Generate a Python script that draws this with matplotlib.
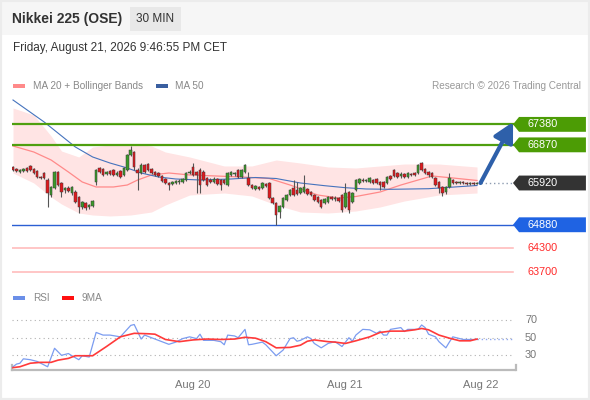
import matplotlib
matplotlib.use("Agg")
import matplotlib.pyplot as plt
from matplotlib.patches import Rectangle, Polygon
import numpy as np

plt.rcParams['font.family'] = ['Liberation Sans', 'DejaVu Sans']

# 30 min candles, oldest first
opens = [66319, 66269, 66194, 66219, 66294, 66344, 66269, 66219, 66070, 66169,
         65995, 65621, 65796, 66194, 65920, 65746, 65796, 65671, 65696, 65572,
         65323, 65422, 65323, 65347, 65945, 66294, 66269, 66144, 66219, 66244,
         66120, 66219, 66120, 66244, 66617, 66692, 66244, 66169, 66369, 66393,
         66269, 66194, 66169, 66095, 66020, 65920, 65895, 65920, 65945, 65945,
         65995, 66169, 66319, 66194, 66244, 66194, 66045, 65995, 65945, 66020,
         65995, 65995, 65870, 66120, 66144, 66244, 66070, 66194, 66045, 65870,
         65771, 65821, 65796, 65895, 65920, 65547, 65422, 65198, 65323, 65497,
         65621, 65796, 65746, 65671, 65696, 65771, 65696, 65621, 65572, 65497,
         65422, 65447, 65572, 65522, 65547, 65621, 65323, 65696, 65447, 65746,
         65920, 65995, 65970, 65945, 65995, 66020, 65945, 65945, 65920, 66095,
         66244, 66169, 66095, 66144, 66070, 66144, 66169, 66169, 66418, 66269,
         66194, 66169, 66045, 65945, 65821, 65696, 65821, 65995, 65945, 65920,
         65945, 65920, 65895, 65920, 65895]
highs = [66344, 66294, 66269, 66294, 66319, 66369, 66294, 66244, 66095, 66194,
         66045, 65846, 66219, 66219, 65945, 65821, 65846, 65846, 65746, 65597,
         65472, 65447, 65397, 65497, 66269, 66319, 66294, 66219, 66244, 66269,
         66219, 66244, 66319, 66642, 66842, 66717, 66294, 66418, 66393, 66418,
         66294, 66219, 66194, 66120, 66045, 65945, 65970, 65995, 66020, 66045,
         66194, 66244, 66418, 66219, 66294, 66244, 66070, 66045, 66070, 66045,
         66020, 66020, 66194, 66219, 66194, 66269, 66269, 66393, 66194, 65895,
         65870, 65846, 65945, 65920, 65945, 65572, 65447, 65372, 65572, 65646,
         65771, 65995, 65945, 65821, 66120, 65796, 65721, 65646, 65597, 65522,
         65547, 65597, 65597, 65597, 65572, 65646, 65920, 65721, 65696, 66020,
         66045, 66045, 66020, 66070, 66020, 66045, 65970, 65970, 66095, 66120,
         66269, 66194, 66194, 66169, 66194, 66169, 66194, 66393, 66443, 66294,
         66219, 66194, 66070, 65970, 65846, 65846, 66169, 66020, 65970, 65970,
         65970, 65945, 65945, 65945, 65945]
lows = [66219, 66194, 66169, 66194, 66194, 66219, 66144, 66045, 66020, 66020,
        65323, 65572, 65771, 65846, 65572, 65671, 65696, 65621, 65422, 65173,
        65273, 65248, 65273, 65323, 65870, 66169, 66095, 66120, 66120, 66095,
        66095, 66045, 66095, 66219, 66593, 66244, 65746, 66144, 66169, 66219,
        66144, 66095, 66070, 65945, 65895, 65746, 65870, 65895, 65895, 65920,
        65970, 66144, 66095, 65671, 65671, 65970, 65846, 65920, 65920, 65870,
        65746, 65895, 65846, 66095, 66095, 66045, 66045, 66169, 65846, 65771,
        65746, 65746, 65771, 65821, 65522, 65397, 64874, 65049, 65298, 65472,
        65597, 65597, 65621, 65646, 65671, 65621, 65597, 65472, 65422, 65298,
        65397, 65422, 65497, 65472, 65447, 65198, 65298, 65173, 65422, 65721,
        65895, 65945, 65945, 65920, 65895, 65895, 65746, 65796, 65895, 65995,
        66070, 66045, 66045, 66045, 66045, 66095, 66095, 66144, 66219, 66144,
        66070, 66045, 65846, 65671, 65597, 65646, 65796, 65895, 65895, 65895,
        65895, 65870, 65870, 65870, 65895]
closes = [66244, 66219, 66244, 66269, 66219, 66244, 66169, 66070, 66045, 66045,
          65671, 65821, 66194, 65870, 65696, 65796, 65721, 65821, 65447, 65323,
          65447, 65298, 65372, 65472, 66244, 66194, 66120, 66194, 66144, 66120,
          66169, 66070, 66294, 66617, 66742, 66319, 66169, 66369, 66194, 66244,
          66169, 66120, 66095, 65970, 65920, 65870, 65945, 65970, 65970, 66020,
          66169, 66194, 66120, 66120, 65870, 65995, 65870, 65945, 66020, 65895,
          65870, 65920, 66169, 66194, 66169, 66070, 66244, 66369, 65870, 65796,
          65846, 65771, 65920, 65846, 65547, 65422, 65123, 65347, 65547, 65621,
          65746, 65621, 65646, 65796, 65821, 65646, 65621, 65497, 65447, 65323,
          65522, 65572, 65522, 65547, 65472, 65248, 65671, 65248, 65671, 65995,
          66020, 65970, 65995, 66045, 65920, 65920, 65870, 65821, 66070, 66020,
          66095, 66070, 66144, 66070, 66169, 66120, 66120, 66369, 66244, 66169,
          66120, 66070, 65870, 65796, 65671, 65821, 66045, 65920, 65920, 65945,
          65920, 65895, 65920, 65895, 65920]

# indicators read at sample candles
ma50_idx = [0, 9, 18, 23, 28, 33, 37, 42, 47, 54, 63, 70, 76, 83, 90, 96, 102, 109, 120, 134]
ma50_val = [67987, 67439, 66817, 66568, 66418, 66294, 66169, 66070, 66020, 65995,
            66020, 66057, 66032, 65920, 65853, 65803, 65771, 65763, 65778, 65858]
ma20_idx = [0, 6, 11, 16, 20, 24, 29, 33, 36, 40, 45, 51, 66, 74, 80, 88, 94, 99, 106, 112, 121, 127, 134]
ma20_val = [66842, 66692, 66493, 66194, 65945, 65821, 65821, 65870, 65995, 66120, 66169, 66120,
            66070, 66032, 65870, 65621, 65547, 65584, 65696, 65870, 66095, 66045, 65983]
bb_idx = [0, 6, 11, 14, 19, 23, 28, 34, 40, 44, 51, 61, 69, 76, 83, 91, 99, 106, 113, 123, 134]
bb_upper = [67788, 67614, 67091, 66717, 66568, 66817, 66867, 66891, 66842, 66692, 66568,
            66344, 66344, 66493, 66418, 66319, 66294, 66344, 66393, 66393, 66319]
bb_lower = [66169, 65920, 65572, 65397, 65173, 65123, 65099, 65123, 65198, 65372, 65621,
            65671, 65597, 65372, 65198, 65173, 65223, 65323, 65472, 65621, 65671]

rsi_idx = [0, 1, 2, 3, 5, 7, 10, 12, 14, 16, 17, 19, 20, 22, 24, 26, 28, 31, 34, 35,
           37, 38, 40, 41, 45, 47, 49, 51, 53, 54, 55, 58, 60, 61, 62, 64, 65, 67, 68, 69,
           72, 73, 76, 78, 80, 81, 82, 83, 85, 86, 87, 89, 91, 93, 95, 97, 98, 99, 101, 103,
           104, 105, 106, 107, 108, 109, 112, 113, 114, 117, 118, 119, 120, 122, 123, 125,
           126, 127, 128, 130, 134]
rsi_val = [17, 20, 21, 26, 25, 23, 17, 38, 30, 32, 29.5, 25, 29.5, 28, 56, 53, 53, 51, 64, 65,
           48.5, 53, 50, 48.5, 42.5, 45, 49, 51, 49, 54, 47, 47, 45.5, 42, 53, 52, 50, 59.5, 42, 42.5,
           45, 42, 29.5, 36, 49, 50, 46, 47, 51, 49, 43.5, 38.5, 43.5, 45.5, 40, 50, 46, 53, 59.5, 59,
           57, 55, 57.5, 53, 53, 59.5, 61.5, 57, 59.5, 59.5, 64.5, 61.5, 54, 51, 45.5, 38.5,
           45, 51, 50, 48, 48]
ma9_idx = [0, 2, 5, 8, 11, 13, 16, 18, 21, 23, 27, 31, 35, 39, 41, 44, 48, 52, 56, 60,
           64, 67, 70, 73, 76, 80, 83, 85, 87, 91, 93, 96, 99, 103, 106, 109, 113, 116, 118, 120,
           123, 126, 129, 132, 134]
ma9_val = [16, 17, 21, 22, 22, 24.5, 26.5, 29.5, 29.5, 29.5, 40, 51, 55, 54.5, 54, 48, 45.5, 47.5, 48.5, 48,
           48.5, 50.5, 49.5, 45.5, 38.5, 39, 41.5, 46, 47.5, 45.5, 45, 43.5, 46.5, 51, 56, 57.5, 57.5, 59, 60.5, 59,
           53, 49.5, 46.5, 46.5, 48.5]

resistances = [67380, 66870]
pivot = 65920
support = 64880
lower_supports = [64300, 63700]
target = 67440

date_pos = [52, 95.7, 135]
date_labels = ['Aug 20', 'Aug 21', 'Aug 22']
rsi_levels = [70, 50, 30]

W, H = 590, 400
fig = plt.figure(figsize=(W / 100, H / 100), dpi=100)


def fx(px):
    return px / W


def fy(py):
    return 1 - py / H


def box(x0, y0, x1, y1, color):
    fig.patches.append(Rectangle((fx(x0), fy(y1)), fx(x1) - fx(x0), fy(y0) - fy(y1),
                                 transform=fig.transFigure, color=color, lw=0, zorder=0))


# header and frame
box(0, 0, 590, 35, '#f6f6f6')
box(130, 7, 181, 31, '#e8e8e8')
fig.patches.append(Rectangle((0, 0), 1, 1, transform=fig.transFigure, fill=False,
                             ec='#ececec', lw=3))
fig.text(fx(12), fy(19), 'Nikkei 225 (OSE)', fontsize=10, fontweight='bold', color='#333333', va='center')
fig.text(fx(155.5), fy(19), '30 MIN', fontsize=8.5, color='#333333', va='center', ha='center')
fig.text(fx(13), fy(48), 'Friday, August 21, 2026 9:46:55 PM CET', fontsize=8.5, color='#333333', va='center')

# legends
box(13, 84, 25, 88, '#ff8a8a')
fig.text(fx(33), fy(86), 'MA 20 + Bollinger Bands', fontsize=7.2, color='#888888', va='center')
box(156, 84, 168, 88, '#3a5fa0')
fig.text(fx(175), fy(86), 'MA 50', fontsize=7.2, color='#888888', va='center')
fig.text(fx(581), fy(86), 'Research \u00a9 2026 Trading Central', fontsize=7.2, color='#999999',
         va='center', ha='right')
box(13, 296, 25, 300, '#6b8fe8')
fig.text(fx(33), fy(298), 'RSI', fontsize=7.2, color='#888888', va='center')
box(62, 296, 74, 300, '#ff1010')
fig.text(fx(82), fy(298), '9MA', fontsize=7.2, color='#888888', va='center')

xlim = (-0.29, 144.96)

# price panel
ax = fig.add_axes([fx(12), fy(282), fx(515) - fx(12), fy(92) - fy(282)])
ax.set_xlim(*xlim)
ax.set_ylim(63455, 68186)
ax.axis('off')

ax.fill_between(bb_idx, bb_lower, bb_upper, color='#ffe4e4', lw=0, zorder=1)
ax.plot(ma20_idx, ma20_val, color='#ff8a8a', lw=0.9, zorder=2)
ax.plot(ma50_idx, ma50_val, color='#4573bd', lw=0.8, zorder=2)

for lvl in resistances:
    ax.axhline(lvl, xmin=0, xmax=0.996, color='#4f9f0f', lw=1.6, zorder=2)
ax.axhline(support, xmin=0, xmax=0.996, color='#2b5fd3', lw=1.0, zorder=2)
for lvl in lower_supports:
    ax.axhline(lvl, xmin=0, xmax=0.996, color='#ffb6b6', lw=1.1, zorder=2)

x = np.arange(len(closes))
o = np.array(opens)
c = np.array(closes)
up = c >= o
ax.vlines(x, lows, highs, color='#555555', lw=0.8, zorder=3)
ax.bar(x, np.maximum(np.abs(c - o), 22), bottom=np.minimum(o, c), width=0.72,
       color=np.where(up, '#3b9a2a', '#e0191e'), edgecolor='#3a3a3a', lw=0.35, zorder=4)

ax.hlines(pivot, len(closes) + 0.2, 144.4, color='#8c9bb0', linestyles=(0, (1, 2)), lw=1, zorder=2)
ax.annotate('', xy=(144.4, target), xytext=(len(closes), pivot),
            arrowprops=dict(arrowstyle='-|>,head_length=0.85,head_width=0.45', color='#2e60aa',
                            lw=3, mutation_scale=14, shrinkA=0, shrinkB=0), zorder=6)

trans = ax.get_yaxis_transform()


def tag(price, fc):
    h = 185
    pts = [(0.996, price), (1.008, price + h), (1.141, price + h), (1.141, price - h), (1.008, price - h)]
    ax.add_patch(Polygon(pts, closed=True, transform=trans, fc=fc, ec='none', clip_on=False, zorder=5))
    ax.text(1.024, price, str(price), transform=trans, color='white', fontsize=7.8, va='center',
            clip_on=False, zorder=6)


for lvl in resistances:
    tag(lvl, '#4c9c05')
tag(pivot, '#333333')
tag(support, '#1f63e3')
for lvl in lower_supports:
    ax.text(1.024, lvl, str(lvl), transform=trans, color='#ff2a2a', fontsize=7.8, va='center', clip_on=False)

# RSI panel
ax2 = fig.add_axes([fx(12), fy(370), fx(515) - fx(12), fy(305) - fy(370)])
ax2.set_xlim(*xlim)
ax2.set_ylim(13.3, 87.2)
for s in ['top', 'right', 'left']:
    ax2.spines[s].set_visible(False)
ax2.spines['bottom'].set_color('#bbbbbb')
ax2.spines['bottom'].set_linewidth(1.6)
ax2.set_yticks([])
ax2.set_xticks(date_pos, date_labels)
ax2.tick_params(axis='x', length=0, pad=7, labelsize=8, labelcolor='#777777')
for xe in [0, 1.002]:
    ax2.plot([xe, xe], [0, 0.08], transform=ax2.transAxes, color='#bbbbbb', lw=1.6, clip_on=False)

for v in rsi_levels:
    ax2.axhline(v, xmin=0, xmax=0.995, color='#b0b0b0', ls=(0, (1, 3)), lw=0.8)
    ax2.text(1.02, v, str(v), transform=ax2.get_yaxis_transform(), color='#777777',
             fontsize=7.8, va='center', clip_on=False)
ax2.plot(rsi_idx, rsi_val, color='#7b9cf0', lw=0.9, zorder=3)
ax2.plot(ma9_idx, ma9_val, color='#ff3a3a', lw=1.2, zorder=4)
ax2.hlines(rsi_val[-1], rsi_idx[-1], 144.4, color='#8fa8f0', linestyles=(0, (1, 2)), lw=1, zorder=3)

fig.savefig('out.png', dpi=100)
